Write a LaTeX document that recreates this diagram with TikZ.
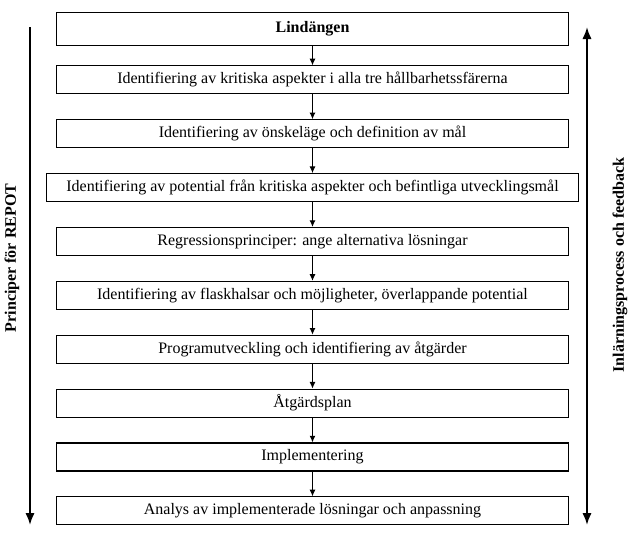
\documentclass[tikz,border=0pt]{standalone}
\usepackage{fontspec}
\setmainfont{Liberation Serif}
\usetikzlibrary{positioning,arrows.meta}
\tikzset{stage node/.style={rectangle,draw,line width=0.8pt,minimum width=384pt,minimum height=21pt,inner xsep=9pt,inner ysep=0pt,font=\fontsize{12}{14}\selectfont}}
\tikzset{side label/.style={rotate=90,font=\fontsize{12}{14}\selectfont\bfseries}}
\tikzset{flow edge/.style={-{Latex[length=5pt,width=4.5pt]},line width=0.75pt}}
\tikzset{side arrow/.style={line width=1.5pt}}

\begin{document}
\begin{tikzpicture}[x=0.75pt,y=-0.75pt,node distance=18.6pt]
        \useasboundingbox (0,0) rectangle (629,537);
        \node[stage node,minimum height=24.75pt,font=\fontsize{12}{14}\selectfont\bfseries] (1) at (312.5,29) {Lindängen};
        \node[stage node] (2) [below = 14.5pt of 1] {Identifiering av kritiska aspekter i alla tre hållbarhetssfärerna};
        \node[stage node] (3) [below = of 2] {Identifiering av önskeläge och definition av mål};
        \node[stage node,inner xsep=15pt] (4) [below = of 3] {Identifiering av potential från kritiska aspekter och befintliga utvecklingsmål};
        \node[stage node] (5) [below = of 4] {Regressionsprinciper: ange alternativa lösningar};
        \node[stage node] (6) [below = of 5] {Identifiering av flaskhalsar och möjligheter, överlappande potential};
        \node[stage node] (7) [below = of 6] {Programutveckling och identifiering av åtgärder};
        \node[stage node] (8) [below = of 7] {Åtgärdsplan};
        \node[stage node] (9) [below = of 8] {Implementering};
        \node[stage node] (10) [below = of 9] {Analys av implementerade lösningar och anpassning};

        \path[draw, flow edge]
        (1) edge (2)
        (2) edge (3)
        (3) edge (4)
        (4) edge (5)
        (5) edge (6)
        (6) edge (7)
        (7) edge (8)
        (8) edge (9)
        (9) edge (10);

        % side arrows
        \coordinate (lt) at (30,27);
        \coordinate (lb) at (30,525);
        \coordinate (rt) at (587,27);
        \coordinate (rb) at (587,525);
        \draw[side arrow,-{Latex[length=9pt,width=7pt]}] (lt) -- (lb);
        \draw[side arrow,{Latex[length=9pt,width=7pt]}-{Latex[length=9pt,width=7pt]}] (rt) -- (rb);

        \node[side label] (principer) at (12,258) {Principer för REPOT};
        \node[side label] (feedback) at (620,265) {Inlärningsprocess och feedback};
    \end{tikzpicture}
\end{document}
